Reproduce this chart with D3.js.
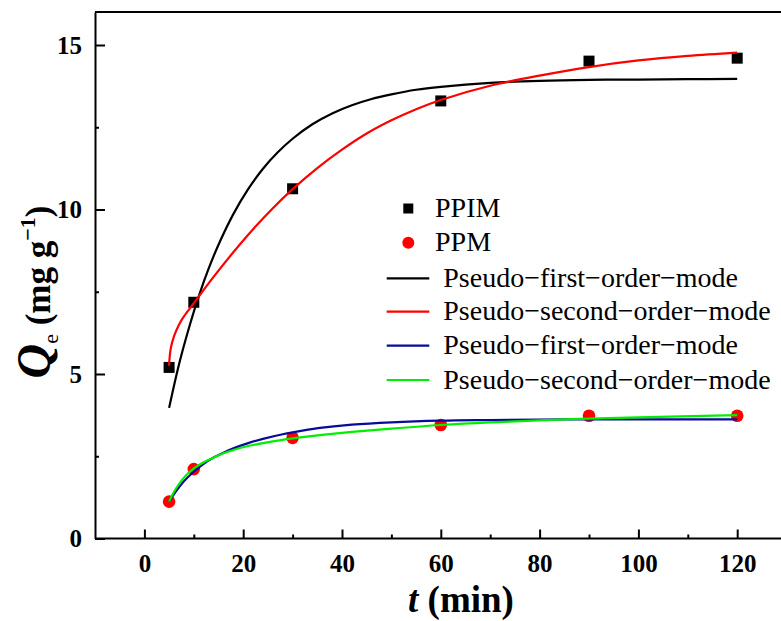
<!DOCTYPE html>
<html>
<head>
<meta charset="utf-8">
<script src="https://cdn.jsdelivr.net/npm/d3@7"></script>
<style>
  html, body { margin: 0; padding: 0; background: #fff; }
  svg { display: block; }
  text { font-family: "Liberation Serif", "Times New Roman", serif; }
</style>
</head>
<body>
<div id="chart"></div>
<script>
// ---- data ----
const times = [5, 10, 30, 60, 90, 120];
const ppim = [5.2, 7.18, 10.63, 13.3, 14.51, 14.6];
const ppm = [1.12, 2.11, 3.06, 3.45, 3.73, 3.73];

// fitted curves
const pfoPpimT = [5, 7, 9, 11, 13, 15, 18, 21, 24, 27, 30, 34, 38, 42, 46, 50, 55, 60, 70, 80, 90, 100, 110, 120];
const pfoPpimV = [3.97, 5.29, 6.39, 7.36, 8.2, 8.93, 9.86, 10.62, 11.24, 11.74, 12.15, 12.59, 12.92, 13.17, 13.36, 13.5, 13.64, 13.73, 13.85, 13.91, 13.94, 13.95, 13.96, 13.97];

const psoPpimT = [5, 5.3, 6, 7, 8, 10, 14, 18, 22, 26, 30, 35, 40, 45, 50, 55, 60, 70, 80, 90, 100, 110, 120];
const psoPpimV = [5.25, 5.75, 6.15, 6.5, 6.75, 7.15, 7.95, 8.7, 9.4, 10.04, 10.62, 11.26, 11.82, 12.31, 12.71, 13.05, 13.33, 13.76, 14.07, 14.33, 14.53, 14.67, 14.77];

const pfoPpmT = [5, 6, 8, 10, 12, 14, 16, 18, 21, 24, 28, 32, 36, 42, 50, 60, 70, 85, 100, 120];
const pfoPpmV = [1.12, 1.35, 1.74, 2.03, 2.27, 2.46, 2.61, 2.74, 2.9, 3.03, 3.17, 3.28, 3.37, 3.46, 3.53, 3.58, 3.6, 3.62, 3.62, 3.62];

const psoPpmT = [5, 6, 8, 10, 12, 14, 16, 18, 21, 24, 28, 32, 36, 42, 50, 60, 70, 85, 100, 120];
const psoPpmV = [1.12, 1.42, 1.85, 2.13, 2.32, 2.46, 2.59, 2.69, 2.81, 2.9, 3.0, 3.08, 3.15, 3.24, 3.34, 3.45, 3.53, 3.62, 3.68, 3.75];

const xTicks = [0, 20, 40, 60, 80, 100, 120];
const xMinor = [10, 30, 50, 70, 90, 110];
const yTicks = [0, 5, 10, 15];
const yMinor = [2.5, 7.5, 12.5];

const legendItems = [
  {label: "PPIM", type: "square", color: "#000000"},
  {label: "PPM", type: "circle", color: "#ff0000"},
  {label: "Pseudo\u2212first\u2212order\u2212mode", type: "line", color: "#000000"},
  {label: "Pseudo\u2212second\u2212order\u2212mode", type: "line", color: "#ff0000"},
  {label: "Pseudo\u2212first\u2212order\u2212mode", type: "line", color: "#0a0a9a"},
  {label: "Pseudo\u2212second\u2212order\u2212mode", type: "line", color: "#00ee00"}
];

// ---- drawing ----
const W = 781, H = 621;
const svg = d3.select("#chart").append("svg").attr("width", W).attr("height", H);

const x = d3.scaleLinear().domain([-10, 130]).range([95, 786.6]);
const y = d3.scaleLinear().domain([0, 16]).range([538.5, 12.1]);

const axisFont = 25;
const serif = "'Liberation Serif', 'Times New Roman', serif";

// top border
svg.append("line").attr("x1", 95).attr("x2", W).attr("y1", y(16)).attr("y2", y(16))
  .attr("stroke", "#000").attr("stroke-width", 2);

// x axis
const gx = svg.append("g").attr("transform", `translate(0,${y(0)})`)
  .call(d3.axisBottom(x).tickValues(xTicks).tickSizeInner(-9).tickSizeOuter(0).tickPadding(16).tickFormat(d3.format("d")));
gx.attr("font-family", serif);
gx.select(".domain").attr("stroke-width", 2).attr("d", `M95,0H${W}`);
gx.selectAll(".tick line").attr("stroke-width", 2);
gx.selectAll(".tick text").attr("font-size", axisFont).attr("font-weight", "bold").attr("fill", "#000");
svg.append("g").attr("transform", `translate(0,${y(0)})`)
  .call(d3.axisBottom(x).tickValues(xMinor).tickSizeInner(-4).tickSizeOuter(0).tickFormat(""))
  .call(g => g.select(".domain").remove())
  .call(g => g.selectAll(".tick line").attr("stroke-width", 2));

// y axis
const gy = svg.append("g").attr("transform", `translate(95,0)`)
  .call(d3.axisLeft(y).tickValues(yTicks).tickSizeInner(-10).tickSizeOuter(0).tickPadding(13).tickFormat(d3.format("d")));
gy.attr("font-family", serif);
gy.select(".domain").attr("stroke-width", 2);
gy.selectAll(".tick line").attr("stroke-width", 2);
gy.selectAll(".tick text").attr("font-size", axisFont).attr("font-weight", "bold").attr("fill", "#000");
svg.append("g").attr("transform", `translate(95,0)`)
  .call(d3.axisLeft(y).tickValues(yMinor).tickSizeInner(-4).tickSizeOuter(0).tickFormat(""))
  .call(g => g.select(".domain").remove())
  .call(g => g.selectAll(".tick line").attr("stroke-width", 2));

// curves
const line = d3.line().x(d => x(d[0])).y(d => y(d[1])).curve(d3.curveCatmullRom.alpha(0.5));
const curves = [
  {t: pfoPpimT, v: pfoPpimV, c: "#000000"},
  {t: psoPpimT, v: psoPpimV, c: "#ff0000"},
  {t: pfoPpmT, v: pfoPpmV, c: "#0a0a9a"},
  {t: psoPpmT, v: psoPpmV, c: "#00ee00"}
];

const sq = 11;
svg.append("g").selectAll("rect").data(times.map((t, i) => [t, ppim[i]])).join("rect")
  .attr("x", d => x(d[0]) - sq / 2).attr("y", d => y(d[1]) - sq / 2)
  .attr("width", sq).attr("height", sq).attr("fill", "#000");
svg.append("g").selectAll("circle").data(times.map((t, i) => [t, ppm[i]])).join("circle")
  .attr("cx", d => x(d[0])).attr("cy", d => y(d[1])).attr("r", 6.3).attr("fill", "#ff0000");

curves.forEach(cv => {
  svg.append("path").datum(cv.t.map((t, i) => [t, cv.v[i]]))
    .attr("d", line).attr("fill", "none").attr("stroke", cv.c).attr("stroke-width", 2.2);
});

// legend
const legY = [208.5, 242.7, 278.3, 311.7, 345.7, 380];
const legFont = 28;
const lg = svg.append("g").attr("font-family", serif);
legendItems.forEach((it, i) => {
  const cy = legY[i];
  if (it.type === "square") {
    lg.append("rect").attr("x", 408.3 - 5).attr("y", cy - 5).attr("width", 10).attr("height", 10).attr("fill", it.color);
    lg.append("text").attr("x", 435).attr("y", cy + 8.5).attr("font-size", legFont).attr("fill", "#000").text(it.label);
  } else if (it.type === "circle") {
    lg.append("circle").attr("cx", 408.3).attr("cy", cy).attr("r", 6).attr("fill", it.color);
    lg.append("text").attr("x", 435).attr("y", cy + 8.5).attr("font-size", legFont).attr("fill", "#000").text(it.label);
  } else {
    lg.append("line").attr("x1", 386.7).attr("x2", 429.3).attr("y1", cy).attr("y2", cy)
      .attr("stroke", it.color).attr("stroke-width", 2.2);
    lg.append("text").attr("x", 443.3).attr("y", cy + 8.5).attr("font-size", legFont).attr("fill", "#000").text(it.label);
  }
});

// x title
const xt = svg.append("text").attr("x", 461).attr("y", 612).attr("text-anchor", "middle")
  .attr("font-family", serif)
  .attr("font-size", 37).attr("font-weight", "bold").attr("fill", "#000");
xt.append("tspan").attr("font-style", "italic").text("t");
xt.append("tspan").text(" (min)");

// y title
const yt = svg.append("text").attr("transform", "translate(50,292) rotate(-90)")
  .attr("font-family", serif)
  .attr("text-anchor", "middle").attr("font-weight", "bold").attr("fill", "#000").attr("font-size", 35);
yt.append("tspan").attr("font-style", "italic").attr("font-size", 48).text("Q");
yt.append("tspan").attr("font-size", 22).attr("font-weight", "normal").attr("dy", 8).text("e");
yt.append("tspan").attr("dy", -8).text(" (mg g");
yt.append("tspan").attr("font-size", 22).attr("dy", -15).text("\u22121");
yt.append("tspan").attr("dy", 15).text(")");
</script>
</body>
</html>
